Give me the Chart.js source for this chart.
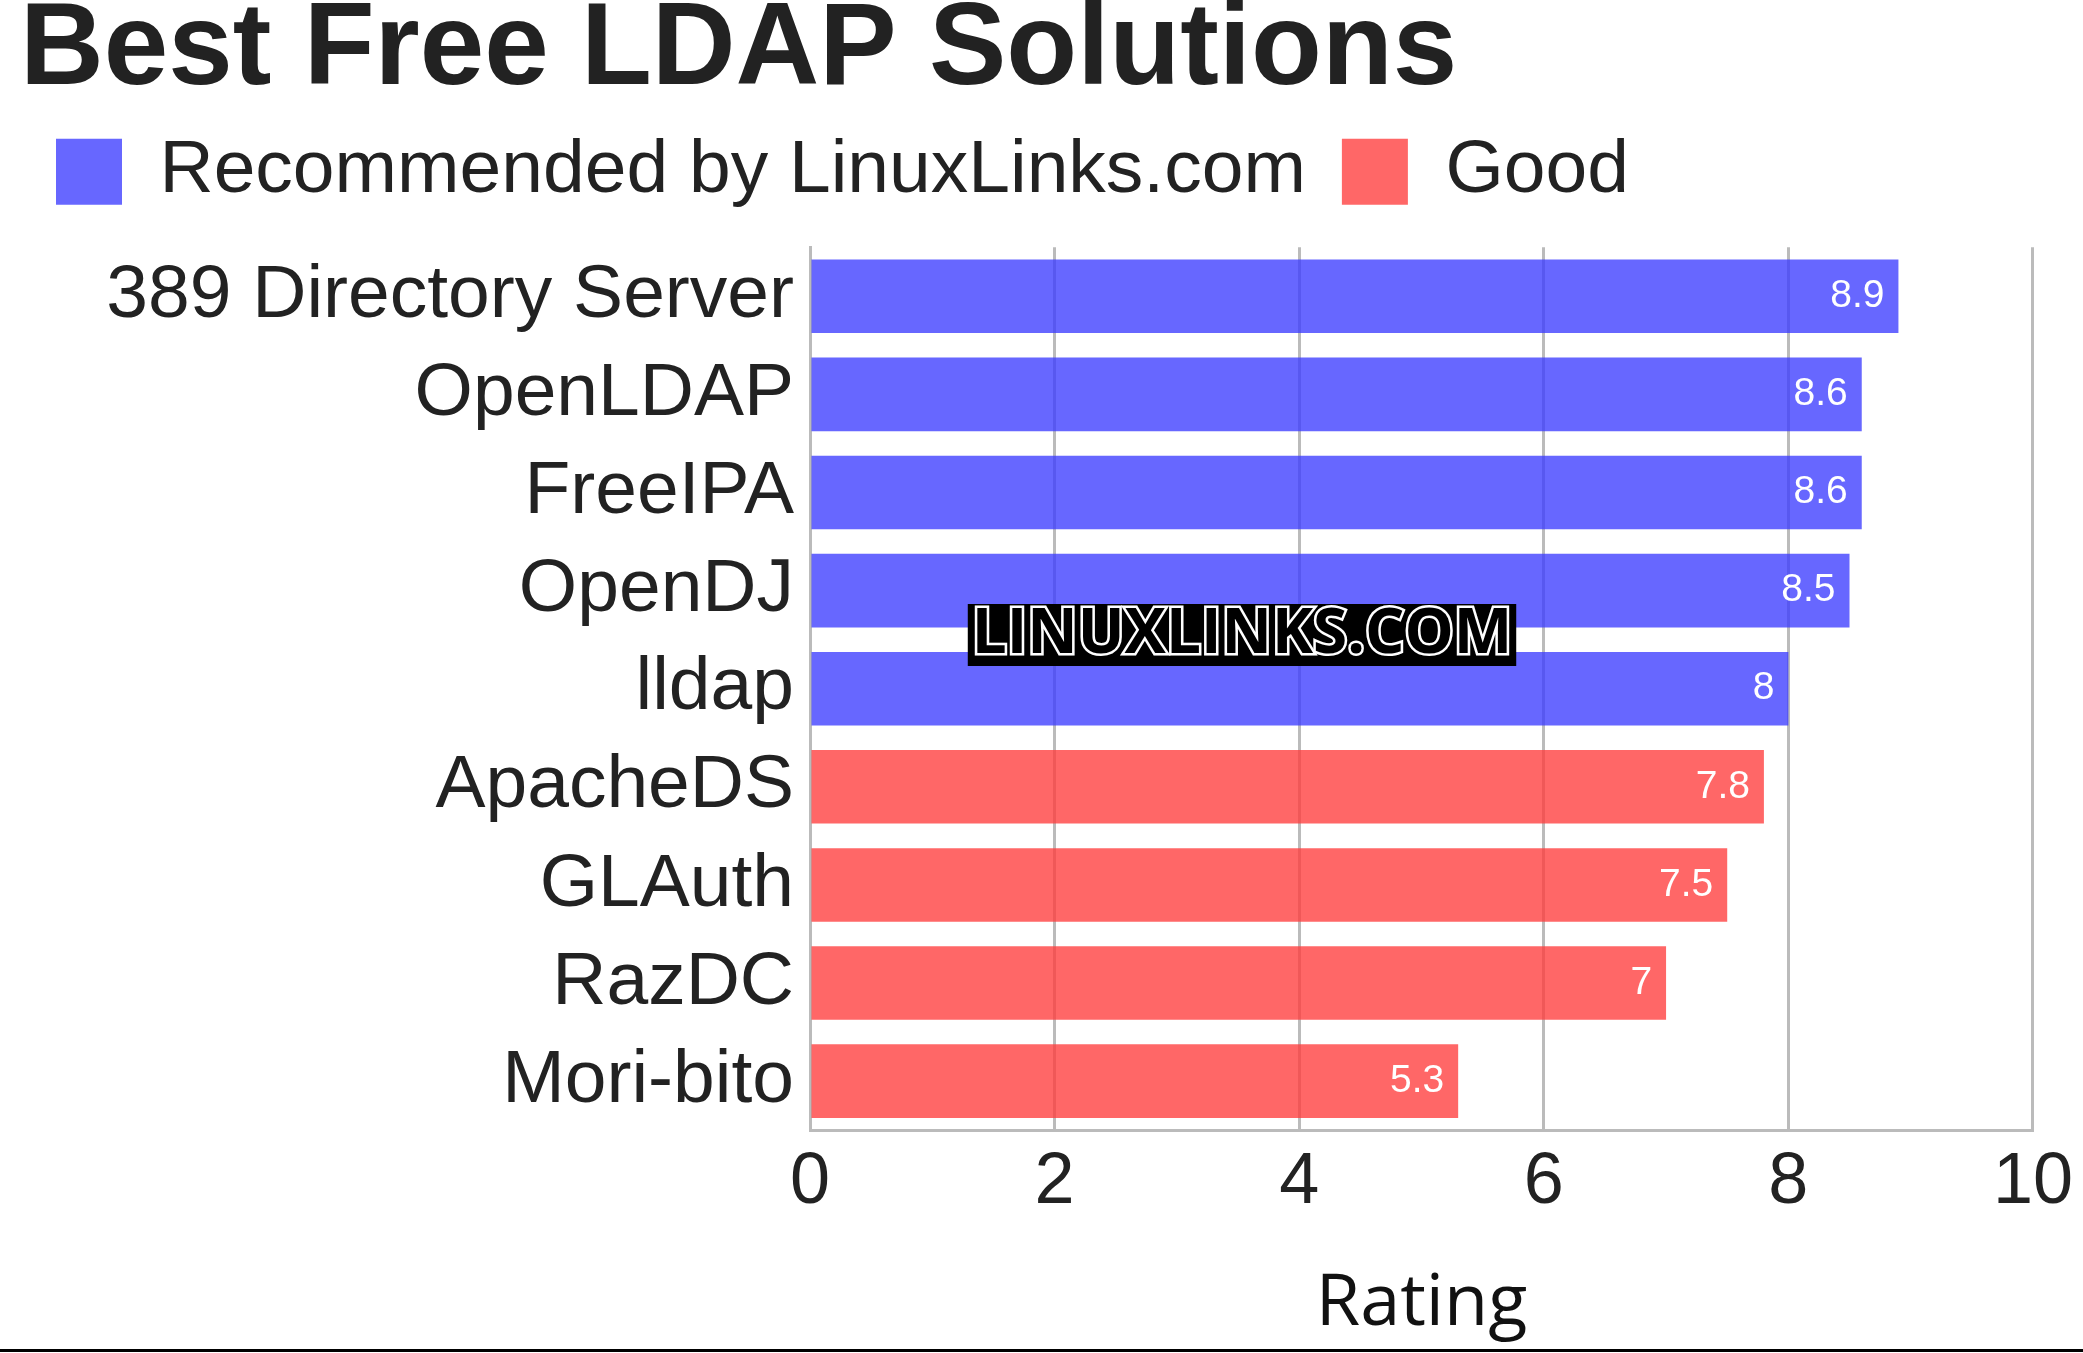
<!DOCTYPE html>
<html>
<head>
<meta charset="utf-8">
<script src="https://cdn.jsdelivr.net/npm/chart.js@4"></script>
<style>
  html, body { margin: 0; padding: 0; background: #fff; }
  #wrap { width: 2083px; height: 1353px; }
</style>
</head>
<body>
<div id="wrap"><canvas id="chart"></canvas></div>
<script>
const names = ['389 Directory Server', 'OpenLDAP', 'FreeIPA', 'OpenDJ', 'lldap', 'ApacheDS', 'GLAuth', 'RazDC', 'Mori-bito'];
const recommended = [8.9, 8.6, 8.6, 8.5, 8, null, null, null, null];
const good = [null, null, null, null, null, 7.8, 7.5, 7, 5.3];
const xTicks = [0, 2, 4, 6, 8, 10];

// value labels at the end of each bar
const valueLabels = {
  id: 'valueLabels',
  afterDatasetsDraw(chart) {
    const c = chart.ctx;
    c.save();
    c.font = '39px "Liberation Sans"';
    c.fillStyle = '#fff';
    c.textAlign = 'right';
    c.textBaseline = 'middle';
    chart.data.datasets.forEach((ds, i) => {
      chart.getDatasetMeta(i).data.forEach((bar, j) => {
        if (ds.data[j] == null) return;
        c.fillText(String(ds.data[j]), bar.x - 14, bar.y);
      });
    });
    c.restore();
  }
};

// extra gap below the legend
const legendGap = {
  id: 'legendGap',
  afterInit(chart) {
    const fit = chart.legend.fit;
    chart.legend.fit = function () { fit.call(this); this.height += 28; };
  }
};

const watermark = {
  id: 'watermark',
  afterDraw(chart) {
    const c = chart.ctx;
    c.save();
    c.font = 'bold 62px "Open Sans"';
    c.textAlign = 'center';
    c.textBaseline = 'middle';
    const t = 'LINUXLINKS.COM';
    const w = c.measureText(t).width;
    c.fillStyle = '#000';
    c.fillRect(1242 - w / 2 - 4, 604, w + 8, 62);
    c.lineWidth = 5;
    c.strokeStyle = '#fff';
    c.strokeText(t, 1242, 635);
    c.fillStyle = '#000';
    c.fillText(t, 1242, 635);
    // bottom rule
    c.fillStyle = '#000';
    c.fillRect(0, 1349, 2083, 3);
    c.restore();
  }
};

new Chart(document.getElementById('chart'), {
  type: 'bar',
  data: {
    labels: names,
    datasets: [
      { label: 'Recommended by LinuxLinks.com', data: recommended, backgroundColor: 'rgba(60,60,255,0.78)', grouped: false },
      { label: 'Good', data: good, backgroundColor: 'rgba(255,60,60,0.78)', grouped: false }
    ]
  },
  options: {
    indexAxis: 'y',
    responsive: true,
    maintainAspectRatio: false,
    animation: false,
    layout: { padding: { left: 20, right: 45, top: 0, bottom: 1 } },
    datasets: { bar: { categoryPercentage: 0.75, barPercentage: 1 } },
    scales: {
      x: {
        min: 0, max: 10,
        afterBuildTicks: (ax) => { ax.ticks = xTicks.map(v => ({ value: v })); },
        grid: { color: '#bbb', lineWidth: 3, drawTicks: false },
        border: { color: '#bbb', width: 3 },
        ticks: { color: '#222', font: { size: 72, family: 'Liberation Sans' }, padding: 10 },
        title: { display: true, text: 'Rating', color: '#111', font: { size: 72, family: 'Open Sans' }, padding: { top: 25 } }
      },
      y: {
        afterFit: (ax) => { ax.width = 790; },
        grid: { display: false },
        border: { color: '#bbb', width: 3 },
        ticks: { color: '#222', font: { size: 75, family: 'Liberation Sans' }, padding: 8 }
      }
    },
    plugins: {
      title: {
        display: true, text: 'Best Free LDAP Solutions', align: 'start', color: '#222',
        font: { size: 116, weight: 'bold', family: 'Liberation Sans' }, padding: { top: -18, bottom: -23 }
      },
      legend: {
        align: 'start',
        labels: { color: '#222', font: { size: 75, family: 'Liberation Sans' }, boxWidth: 66, boxHeight: 66, padding: 36 }
      },
      tooltip: { enabled: false }
    }
  },
  plugins: [valueLabels, legendGap, watermark]
});
</script>
</body>
</html>
